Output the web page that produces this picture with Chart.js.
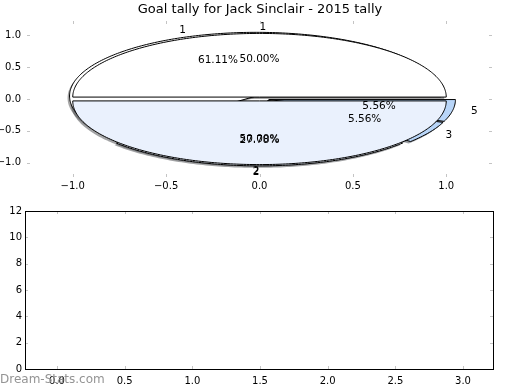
<!DOCTYPE html>
<html><head><meta charset="utf-8">
<script src="https://cdn.jsdelivr.net/npm/chart.js@4/dist/chart.umd.min.js"></script>
<style>
html,body{margin:0;padding:0;background:#fff;}
#wrap{position:relative;width:520px;height:390px;background:#fff;}
canvas{position:absolute;left:0;}
</style></head><body>
<div id="wrap">
<canvas id="topc" width="520" height="195" style="top:0"></canvas>
<canvas id="botc" width="520" height="195" style="top:195px"></canvas>
</div>
<script>
const chartTitle = 'Goal tally for Jack Sinclair - 2015 tally';
const pieALabels = ['1', '2'];
const pieAValues = [1, 1];
const pieBLabels = ['1', '2', '3', '5'];
const pieBValues = [11, 5, 1, 1];
const wedgeColors = ['#ffffff', '#eaf1fd', '#b8d5f8', '#b8d5f8'];
const topTicks = [-1.0, -0.5, 0.0, 0.5, 1.0];
const botXTicks = [0.0, 0.5, 1.0, 1.5, 2.0, 2.5, 3.0];
const botYTicks = [0, 2, 4, 6, 8, 10, 12];
const watermark = 'Dream-Stats.com';

const FONT = '"DejaVu Sans", "Liberation Sans", sans-serif';
const fmt1 = v => (v < 0 ? '\u2212' : '') + Math.abs(v).toFixed(1);

function pieGeometry(values, labels, explode) {
  const total = values.reduce((a, b) => a + b, 0);
  let t1 = 0; const out = [];
  values.forEach((v, i) => {
    const t2 = t1 + 360 * v / total;
    const mid = (t1 + t2) / 2 * Math.PI / 180;
    out.push({t1, t2, mid, cx: explode * Math.cos(mid), cy: explode * Math.sin(mid),
      color: wedgeColors[i % wedgeColors.length], label: labels[i],
      pct: (100 * v / total).toFixed(2) + '%'});
    t1 = t2;
  });
  return out;
}
function wedgePath(ctx, xs, ys, w, dx, dy) {
  ctx.beginPath();
  ctx.moveTo(xs.getPixelForValue(w.cx) + dx, ys.getPixelForValue(w.cy) + dy);
  const n = Math.max(4, Math.ceil(w.t2 - w.t1));
  for (let k = 0; k <= n; k++) {
    const a = (w.t1 + (w.t2 - w.t1) * k / n) * Math.PI / 180;
    ctx.lineTo(xs.getPixelForValue(w.cx + Math.cos(a)) + dx, ys.getPixelForValue(w.cy + Math.sin(a)) + dy);
  }
  ctx.closePath();
}
function shadowColor(hex) {
  const r = parseInt(hex.slice(1, 3), 16), g = parseInt(hex.slice(3, 5), 16), b = parseInt(hex.slice(5, 7), 16);
  return `rgba(${Math.round(r * 0.3)},${Math.round(g * 0.3)},${Math.round(b * 0.3)},0.5)`;
}
function innerTicks(ctx, chart, xVals, yVals, color) {
  const a = chart.chartArea, xs = chart.scales.x, ys = chart.scales.y;
  ctx.save();
  ctx.strokeStyle = color; ctx.lineWidth = 1;
  ctx.beginPath();
  xVals.forEach(v => {
    const px = Math.round(xs.getPixelForValue(v)) + 0.5;
    ctx.moveTo(px, a.top); ctx.lineTo(px, a.top + 3);
    ctx.moveTo(px, a.bottom); ctx.lineTo(px, a.bottom - 3);
  });
  yVals.forEach(v => {
    const py = Math.round(ys.getPixelForValue(v)) + 0.5;
    ctx.moveTo(a.left, py); ctx.lineTo(a.left + 3, py);
    ctx.moveTo(a.right, py); ctx.lineTo(a.right - 3, py);
  });
  ctx.stroke();
  ctx.restore();
}

const piePlugin = {
  id: 'pies',
  afterDatasetsDraw(chart) {
    const ctx = chart.ctx, xs = chart.scales.x, ys = chart.scales.y;
    const pies = [pieGeometry(pieBValues, pieBLabels, 0.05), pieGeometry(pieAValues, pieALabels, 0.03)];
    ctx.save();
    // shadows first
    pies.forEach(p => p.forEach(w => {
      wedgePath(ctx, xs, ys, w, -2, 2);
      ctx.fillStyle = shadowColor(w.color); ctx.fill();
    }));
    // wedges
    ctx.lineWidth = 1; ctx.strokeStyle = '#000'; ctx.lineJoin = 'miter';
    pies.forEach(p => p.forEach(w => {
      wedgePath(ctx, xs, ys, w, 0, 0);
      ctx.fillStyle = w.color; ctx.fill(); ctx.stroke();
    }));
    // texts
    ctx.fillStyle = '#000';
    ctx.font = '10.5px ' + FONT;
    ctx.textBaseline = 'middle';
    pies.forEach(p => p.forEach(w => {
      const lx = w.cx + 1.1 * Math.cos(w.mid), ly = w.cy + 1.1 * Math.sin(w.mid);
      ctx.textAlign = lx > 0 ? 'left' : 'right';
      ctx.fillText(w.label, xs.getPixelForValue(lx), ys.getPixelForValue(ly));
      const qx = w.cx + 0.6 * Math.cos(w.mid), qy = w.cy + 0.6 * Math.sin(w.mid);
      ctx.textAlign = 'center';
      ctx.fillText(w.pct, xs.getPixelForValue(qx), ys.getPixelForValue(qy));
    }));
    ctx.restore();
    innerTicks(ctx, chart, topTicks, topTicks, '#c4c4c4');
    ctx.save();
    ctx.fillStyle = '#000'; ctx.font = '13px ' + FONT;
    ctx.textAlign = 'center'; ctx.textBaseline = 'middle';
    ctx.fillText(chartTitle, 260, 10);
    ctx.restore();
  }
};

const tickFont = {family: FONT, size: 10};

new Chart(document.getElementById('topc'), {
  type: 'scatter',
  data: {datasets: [{data: []}]},
  options: {
    responsive: false, animation: false, devicePixelRatio: 1,
    layout: {padding: {top: 21, right: 28, left: 0, bottom: 0}},
    plugins: {legend: {display: false}, tooltip: {enabled: false}, title: {display: false}},
    scales: {
      x: {type: 'linear', min: -1.245, max: 1.245,
        afterBuildTicks: s => { s.ticks = topTicks.map(v => ({value: v})); },
        afterFit: s => { s.height = 18; },
        grid: {display: false, drawTicks: false}, border: {display: false},
        ticks: {callback: v => fmt1(v), font: tickFont, color: '#000', padding: 3, maxRotation: 0, autoSkip: false}},
      y: {type: 'linear', min: -1.225, max: 1.225,
        afterBuildTicks: s => { s.ticks = topTicks.map(v => ({value: v})); },
        afterFit: s => { s.width = 27; },
        grid: {display: false, drawTicks: false}, border: {display: false},
        ticks: {callback: v => fmt1(v), font: tickFont, color: '#000', padding: 6, autoSkip: false}}
    }
  },
  plugins: [piePlugin]
});

const framePlugin = {
  id: 'frame',
  afterDraw(chart) {
    const ctx = chart.ctx, a = chart.chartArea;
    innerTicks(ctx, chart, botXTicks, botYTicks, '#c4c4c4');
    ctx.save();
    ctx.strokeStyle = '#000'; ctx.lineWidth = 1;
    ctx.strokeRect(Math.round(a.left) + 0.5, Math.round(a.top) + 0.5, Math.round(a.right - a.left), Math.round(a.bottom - a.top));
    ctx.fillStyle = '#949494'; ctx.font = '12px ' + FONT;
    ctx.textAlign = 'left'; ctx.textBaseline = 'middle';
    ctx.fillText(watermark, 0, 185);
    ctx.restore();
  }
};

new Chart(document.getElementById('botc'), {
  type: 'scatter',
  data: {datasets: [{data: []}]},
  options: {
    responsive: false, animation: false, devicePixelRatio: 1,
    layout: {padding: {top: 16, right: 27, left: 0, bottom: 0}},
    plugins: {legend: {display: false}, tooltip: {enabled: false}},
    scales: {
      x: {type: 'linear', min: -0.2365, max: 3.2217,
        afterBuildTicks: s => { s.ticks = botXTicks.map(v => ({value: v})); },
        afterFit: s => { s.height = 21; },
        grid: {display: false, drawTicks: false}, border: {display: false},
        ticks: {callback: v => v.toFixed(1), font: tickFont, color: '#000', padding: 6, maxRotation: 0, autoSkip: false}},
      y: {type: 'linear', min: 0, max: 12,
        afterBuildTicks: s => { s.ticks = botYTicks.map(v => ({value: v})); },
        afterFit: s => { s.width = 25; },
        grid: {display: false, drawTicks: false}, border: {display: false},
        ticks: {callback: v => String(v), font: tickFont, color: '#000', padding: 3, autoSkip: false}}
    }
  },
  plugins: [framePlugin]
});
</script>
</body></html>
